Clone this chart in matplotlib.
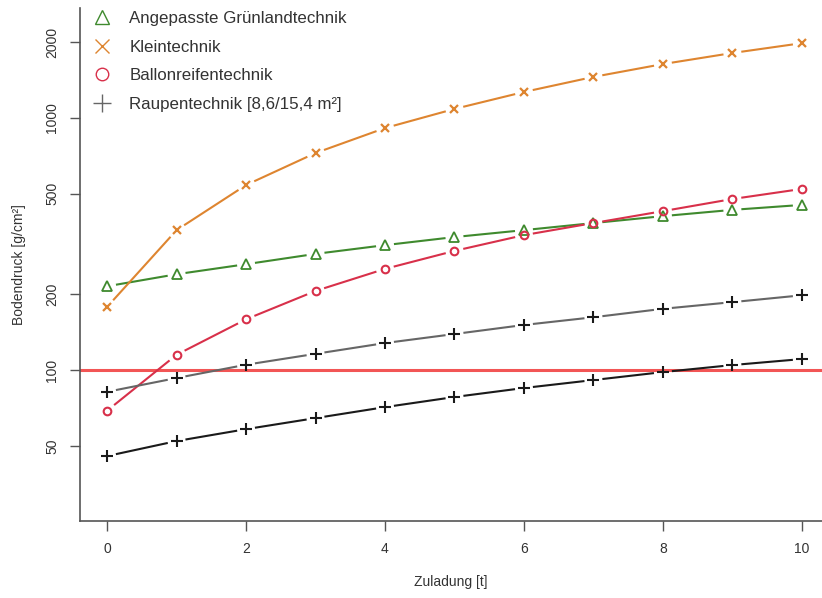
import matplotlib
matplotlib.use("Agg")
import matplotlib.pyplot as plt
from matplotlib.lines import Line2D
import numpy as np

plt.rcParams['font.family'] = ['Liberation Sans', 'DejaVu Sans']

zuladung = [0, 1, 2, 3, 4, 5, 6, 7, 8, 9, 10]
gruenland = [215, 240, 263, 289, 313, 337, 359, 383, 408, 432, 452]
klein = [178, 359, 542, 726, 912, 1086, 1268, 1455, 1636, 1810, 1980]
ballon = [69, 115, 159, 206, 252, 297, 343, 383, 427, 477, 523]
raupe_86 = [82, 93, 105, 116, 128, 139, 151, 162, 175, 186, 198]
raupe_154 = [45.6, 52.3, 58.3, 64.5, 71.3, 78.2, 84.9, 91.3, 98.2, 104.7, 110.6]
grenzwert = 100

labels = ["Angepasste Grünlandtechnik", "Kleintechnik", "Ballonreifentechnik",
          "Raupentechnik [8,6/15,4 m²]"]

green = "#3f8a2e"
orange = "#de8530"
red = "#d8304a"
gray = "#666666"
black = "#1a1a1a"

fig = plt.figure(figsize=(8.22, 5.98), dpi=100)
ax = fig.add_axes([80/822, 1-521/598, 1-80/822, (521-8)/598])
ax.set_yscale('log')
ax.set_xlim(-0.39, 10.29)
ax.set_ylim(25.2, 2730)

ax.axhline(grenzwert, color="#f25555", lw=2.2, zorder=1)

GAP = 9.0  # pixels, R type="b" style gaps


def gapped_line(xs, ys, col, z):
    pts = ax.transData.transform(np.column_stack([xs, ys]))
    inv = ax.transData.inverted()
    for p0, p1 in zip(pts[:-1], pts[1:]):
        d = p1 - p0
        L = np.hypot(*d)
        if L <= 2 * GAP:
            continue
        u = d / L
        a = inv.transform(p0 + u * GAP)
        b = inv.transform(p1 - u * GAP)
        ax.plot([a[0], b[0]], [a[1], b[1]], color=col, lw=1.5, zorder=z,
                solid_capstyle='butt')


series = [
    (gruenland, green, '^', 7.5, 1.3),
    (klein, orange, 'x', 5.5, 1.6),
    (ballon, red, 'o', 5.5, 1.5),
    (raupe_86, black, '+', 9, 1.5),
    (raupe_154, black, '+', 9, 1.5),
]
line_cols = [green, orange, red, gray, black]
for i, ((vals, col, mk, ms, mew), lc) in enumerate(zip(series, line_cols)):
    z = 2 + i * 0.1
    gapped_line(zuladung, vals, lc, z)
    ax.plot(zuladung, vals, linestyle='none', marker=mk, ms=ms, mew=mew,
            mfc='none', mec=col, color=col, zorder=z + 0.05)

ax.set_xticks([0, 2, 4, 6, 8, 10])
ax.set_yticks([50, 100, 200, 500, 1000, 2000])
ax.set_yticklabels(["50", "100", "200", "500", "1000", "2000"], rotation=90, va='center')
ax.yaxis.set_minor_locator(matplotlib.ticker.NullLocator())
ax.tick_params(axis='both', direction='out', length=7, width=1, color='#555555',
               labelsize=10, labelcolor='#333333', pad=8)
for s in ['top', 'right']:
    ax.spines[s].set_visible(False)
for s in ['left', 'bottom']:
    ax.spines[s].set_color('#555555')
    ax.spines[s].set_linewidth(1.2)

ax.set_xlabel("Zuladung [t]", fontsize=10, color='#333333', labelpad=14)
ax.set_ylabel("Bodendruck [g/cm²]", fontsize=10, color='#333333', labelpad=14)

handles = [
    Line2D([], [], linestyle='none', marker='^', ms=10, mfc='none', mec=green, mew=1.0),
    Line2D([], [], linestyle='none', marker='x', ms=10, mec=orange, mew=1.0),
    Line2D([], [], linestyle='none', marker='o', ms=9, mfc='none', mec=red, mew=1.0),
    Line2D([], [], linestyle='none', marker='+', ms=13, mec=gray, mew=1.0),
]
leg = ax.legend(handles, labels, loc='upper left', bbox_to_anchor=(0.0, 1.017),
                frameon=False, fontsize=12.2, handlelength=1.2, handletextpad=1.0,
                labelspacing=0.8, borderaxespad=0.3)
for t in leg.get_texts():
    t.set_color('#333333')

fig.savefig("out.png", dpi=100)
